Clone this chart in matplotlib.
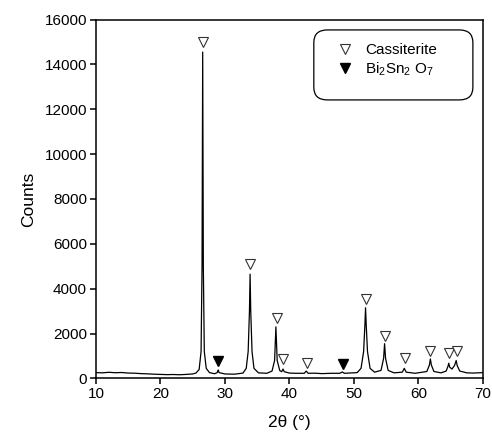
import matplotlib
matplotlib.use('Agg')
import matplotlib.pyplot as plt
from matplotlib.patches import FancyBboxPatch
from matplotlib.lines import Line2D

plt.rcParams['font.family'] = ['Liberation Sans', 'DejaVu Sans']
plt.rcParams['mathtext.fontset'] = 'custom'
plt.rcParams['mathtext.rm'] = 'Liberation Sans'
plt.rcParams['mathtext.it'] = 'Liberation Sans:italic'

# diffraction pattern
two_theta = [10.0, 11.0, 12.0, 13.0, 14.0, 15.0, 16.0, 17.0, 18.0, 19.0,
             20.0, 21.0, 22.0, 23.0, 24.0, 25.0, 25.5, 26.0,
             26.3, 26.45, 26.55, 26.65, 26.8, 27.1, 27.6, 28.4, 28.8, 28.95,
             29.1, 30.0, 31.5, 32.8, 33.3, 33.6, 33.8, 33.9, 34.0, 34.2,
             34.5, 35.2, 36.5, 37.3, 37.7, 37.9, 38.1, 38.5, 38.8, 39.0,
             39.2, 40.0, 41.0, 42.3, 42.6, 42.9, 44.0, 45.0, 46.5, 47.8,
             48.2, 48.5, 49.5, 50.5,
             51.1, 51.5, 51.7, 51.8, 51.9, 52.1, 52.5, 53.2, 54.2, 54.6,
             54.75, 54.9, 55.3, 56.2, 57.5, 57.8, 58.1, 59.5, 61.3, 61.7,
             61.85, 62.0, 62.4, 63.5, 64.3, 64.6, 64.7, 64.85, 65.2, 65.6,
             65.85, 66.0, 66.4, 67.5, 68.5, 70.0]
counts = [260, 250, 275, 255, 265, 240, 235, 215, 205, 190,
          180, 170, 175, 165, 180, 200, 240, 400,
          1200, 5000, 14550, 5000, 1200, 450, 260, 210, 260, 380,
          260, 200, 190, 240, 450, 1200, 3000, 4650, 3000, 1200,
          450, 250, 230, 330, 800, 2300, 800, 350, 300, 420,
          300, 240, 230, 230, 330, 230, 235, 215, 230, 230,
          290, 230, 245, 260,
          450, 1200, 2400, 3150, 2400, 1200, 450, 280, 360, 900,
          1550, 900, 360, 250, 280, 450, 280, 230, 310, 600,
          870, 600, 310, 250, 330, 560, 680, 500, 420, 580,
          800, 580, 330, 250, 240, 260]

# phase markers
cass_x = [26.55, 33.9, 38.0, 39.0, 42.7, 51.8, 54.75, 57.85, 61.85, 64.7, 65.95]
cass_y = [15000, 5100, 2700, 850, 700, 3550, 1900, 900, 1240, 1130, 1230]
bi_x = [28.9, 48.3]
bi_y = [780, 650]

fig = plt.figure(figsize=(4.92, 4.34), dpi=100)
ax = fig.add_axes([0.195, 0.128, 0.7866, 0.827])

ax.plot(two_theta, counts, color='black', lw=0.9)
ax.plot(cass_x, cass_y, linestyle='none', marker='v', ms=7.5,
        mfc='white', mec='#333333', mew=0.8)
ax.plot(bi_x, bi_y, linestyle='none', marker='v', ms=7.5,
        mfc='black', mec='black')

ax.set_xlim(10, 70)
ax.set_ylim(0, 16000)
ax.set_xticks(range(10, 71, 10))
ax.set_yticks(range(0, 16001, 2000))
ax.tick_params(direction='out', length=4.5, width=1.1, labelsize=11, pad=2)
for s in ax.spines.values():
    s.set_linewidth(1.1)

ax.set_xlabel('2θ (°)', fontsize=12.5, labelpad=10)
ax.set_ylabel('Counts', fontsize=12.5, labelpad=6)

# rounded legend box
box = FancyBboxPatch((0.563, 0.776), 0.411, 0.195,
                     boxstyle='round,pad=0,rounding_size=0.035',
                     transform=ax.transAxes, facecolor='white',
                     edgecolor='black', lw=0.9, zorder=3)
ax.add_patch(box)

handles = [
    Line2D([], [], linestyle='none', marker='v', ms=7.5,
           mfc='white', mec='#333333', mew=0.8),
    Line2D([], [], linestyle='none', marker='v', ms=7.5,
           mfc='black', mec='black'),
]
leg = ax.legend(handles, ['Cassiterite', 'Bi$_2$Sn$_2$ O$_7$'],
                loc='upper left', bbox_to_anchor=(0.624, 0.935),
                frameon=False, fontsize=11, handlelength=1.0,
                handletextpad=0.8, borderpad=0, borderaxespad=0,
                labelspacing=0.25)
leg.set_zorder(4)

fig.savefig('out.png', dpi=100)
